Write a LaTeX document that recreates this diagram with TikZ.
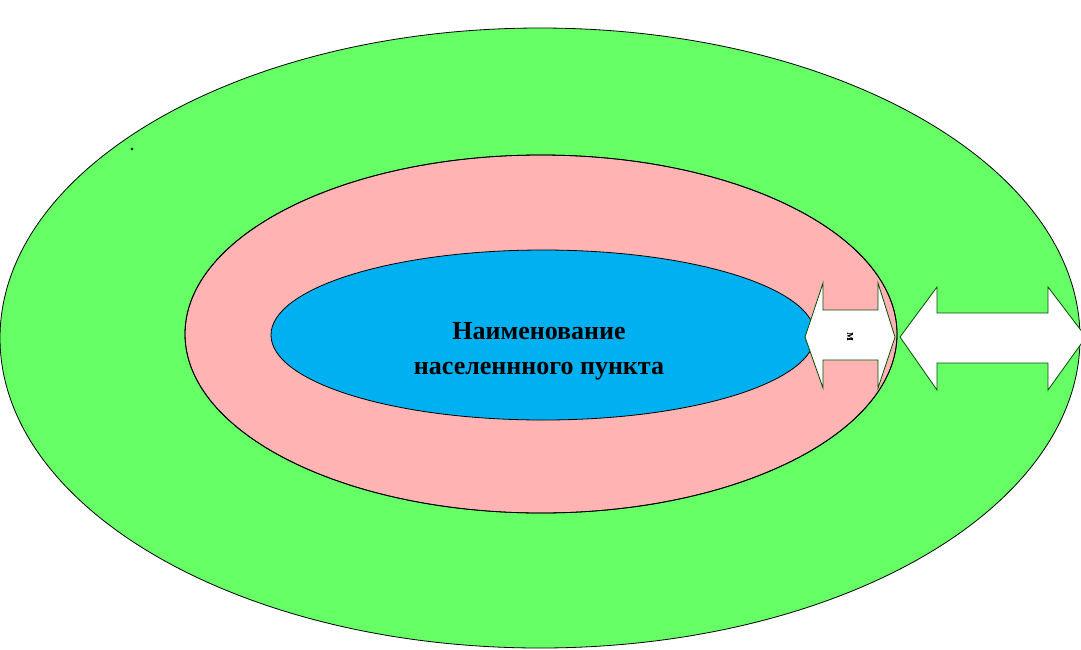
\documentclass[tikz,border=0pt]{standalone}
\usepackage{fontspec}
\setmainfont{Liberation Serif}
\begin{document}
\begin{tikzpicture}[x=1pt,y=-1pt,
  zone/.style={draw=black,line width=0.8pt},
  arrowshape/.style={draw=black!70!green,fill=white,line width=0.8pt,line join=miter}]
\useasboundingbox (0,0) rectangle (1081,649);
\clip (0,0) rectangle (1081,649);
\definecolor{zgreen}{RGB}{102,255,102}
\definecolor{zpink}{RGB}{255,179,179}
\definecolor{zblue}{RGB}{0,176,240}
\fill[white] (0,0) rectangle (1081,649);
\draw[zone,fill=zgreen] (540,338) ellipse [x radius=540, y radius=310];
\draw[zone,fill=zpink] (541,334) ellipse [x radius=356, y radius=179];
\draw[zone,fill=zblue] (543,335) ellipse [x radius=272, y radius=85];
% small double arrow
\draw[arrowshape] (805,337) -- (823,283) -- (823,310) -- (878,310) -- (878,283) -- (895,337)
  -- (878,388) -- (878,360) -- (823,360) -- (823,388) -- cycle;
\draw[zone] (541,334) ellipse [x radius=356, y radius=179];
\node[rotate=-90,font=\bfseries\fontsize{13}{14}\selectfont] (m) at (850,337) {м};
% big double arrow
\draw[arrowshape] (900,337) -- (937,287) -- (937,313) -- (1048,313) -- (1048,287) -- (1086,337)
  -- (1048,390) -- (1048,363) -- (937,363) -- (937,390) -- cycle;
\fill[black] (132,149) circle (1.3);
\node[align=center,font=\bfseries\fontsize{26}{35}\selectfont] (t) at (539,351) {Наименование\\населеннного пункта};
\end{tikzpicture}
\end{document}
